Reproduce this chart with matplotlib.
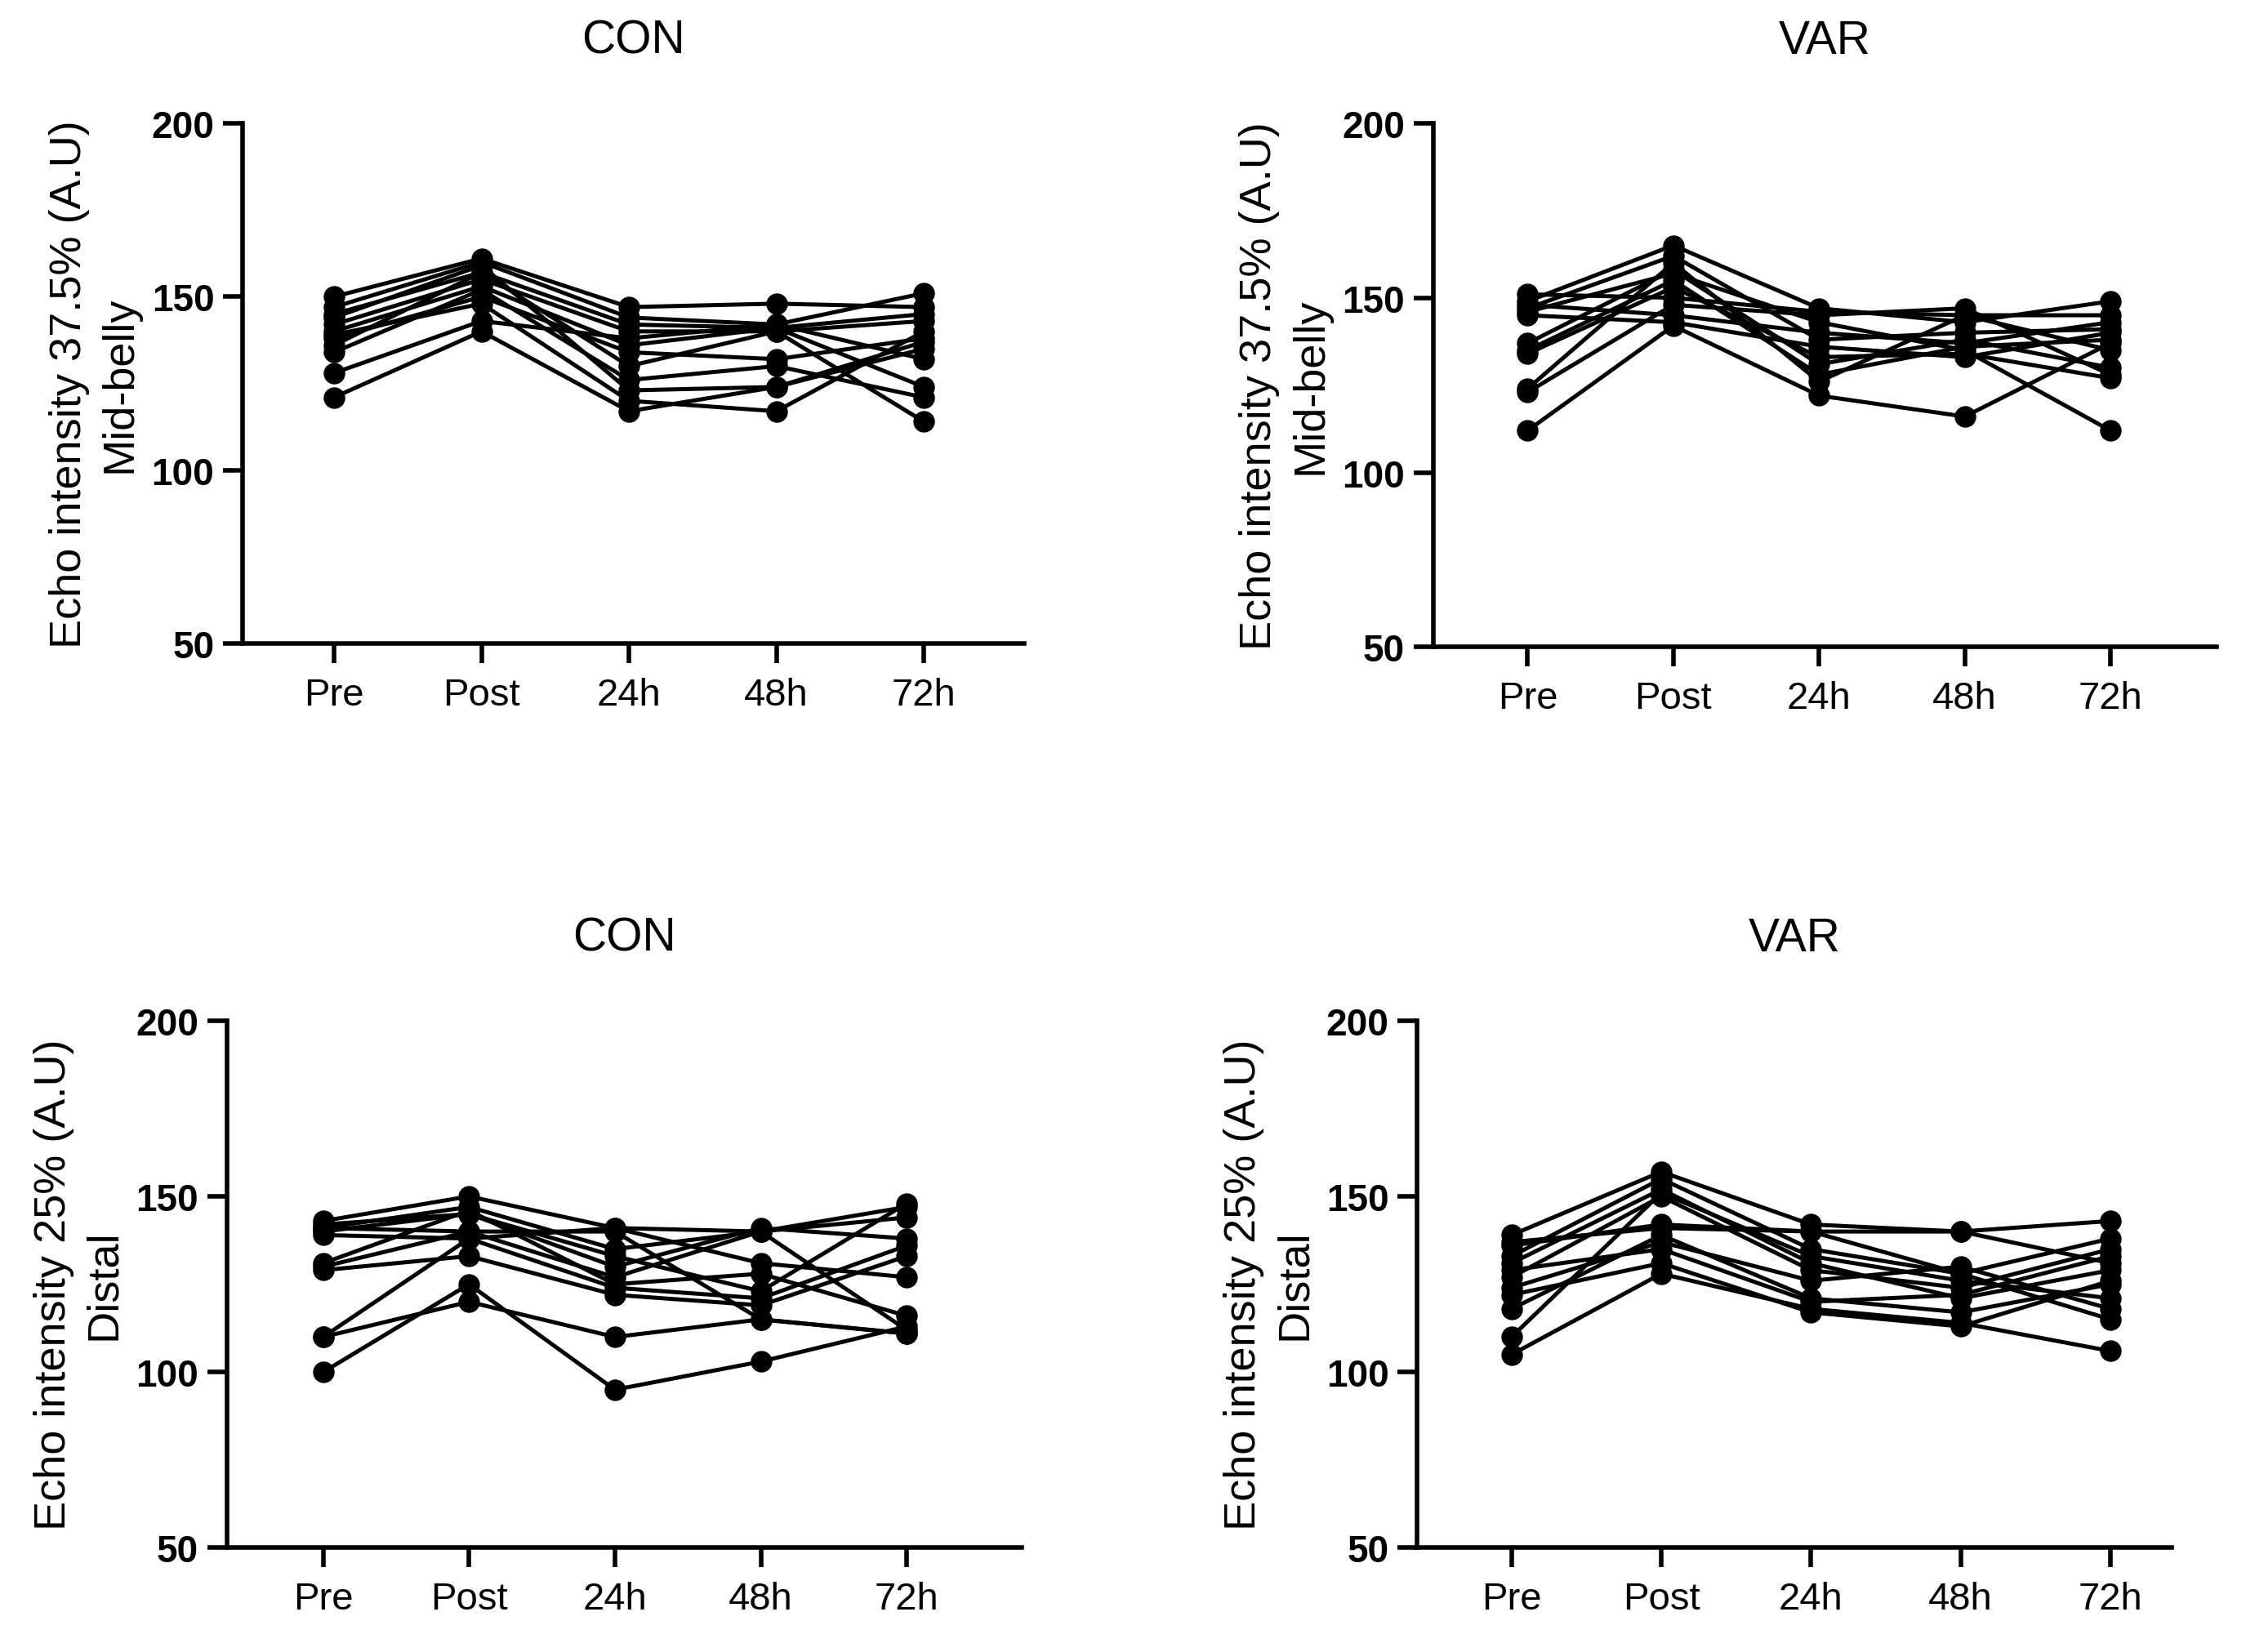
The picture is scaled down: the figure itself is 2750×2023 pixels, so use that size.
import matplotlib.pyplot as plt

plt.rcParams['font.family'] = ['Liberation Sans', 'DejaVu Sans']

timepoints = ["Pre", "Post", "24h", "48h", "72h"]
yticks = [50, 100, 150, 200]

# one row per participant: Pre, Post, 24h, 48h, 72h
con_mid = [
    [150, 161, 147, 148, 147],
    [147, 160, 144, 142, 151],
    [145, 157, 142, 141, 145],
    [142, 155, 140, 140, 143],
    [140, 153, 136, 141, 124],
    [138, 150, 134, 132, 138],
    [136, 157, 130, 140, 114],
    [134, 152, 126, 130, 121],
    [144, 159, 123, 124, 135],
    [139, 148, 120, 117, 140],
    [128, 143, 138, 142, 132],
    [121, 140, 117, 124, 137],
]
var_mid = [
    [151, 150, 146, 145, 145],
    [149, 165, 147, 143, 149],
    [148, 145, 140, 137, 143],
    [147, 162, 138, 140, 141],
    [145, 143, 136, 133, 140],
    [137, 158, 131, 138, 130],
    [135, 155, 128, 136, 138],
    [134, 153, 133, 134, 127],
    [124, 160, 126, 145, 135],
    [123, 148, 145, 147, 128],
    [112, 142, 122, 116, 137],
    [146, 157, 143, 135, 112],
]
con_distal = [
    [143, 150, 141, 140, 147],
    [141, 147, 135, 140, 144],
    [140, 145, 130, 141, 138],
    [139, 138, 141, 131, 127],
    [131, 146, 125, 128, 116],
    [129, 133, 122, 119, 133],
    [141, 140, 127, 140, 112],
    [130, 140, 140, 115, 111],
    [110, 138, 124, 121, 136],
    [110, 120, 110, 115, 111],
    [100, 125, 95, 103, 113],
    [142, 145, 133, 123, 148],
]
var_distal = [
    [139, 157, 142, 140, 143],
    [137, 141, 140, 140, 131],
    [133, 155, 135, 128, 138],
    [131, 152, 131, 121, 129],
    [127, 150, 129, 124, 135],
    [124, 137, 126, 130, 118],
    [118, 139, 121, 117, 125],
    [110, 151, 133, 126, 121],
    [105, 128, 118, 114, 106],
    [136, 142, 140, 128, 115],
    [129, 135, 120, 122, 133],
    [122, 131, 117, 113, 126],
]

panels = [
    (con_mid, "CON", "Echo intensity 37.5% (A.U)\nMid-belly", [0.108, 0.610, 0.348, 0.315], (-0.62, 4.68)),
    (var_mid, "VAR", "Echo intensity 37.5% (A.U)\nMid-belly", [0.638, 0.608, 0.349, 0.317], (-0.65, 4.73)),
    (con_distal, "CON", "Echo intensity 25% (A.U)\nDistal", [0.101, 0.063, 0.354, 0.319], (-0.66, 4.79)),
    (var_distal, "VAR", "Echo intensity 25% (A.U)\nDistal", [0.631, 0.063, 0.336, 0.319], (-0.63, 4.41)),
]

fig = plt.figure(figsize=(27.5, 20.24), dpi=100)

for data, title, ylab, pos, xlim in panels:
    ax = fig.add_axes(pos)
    for subj in data:
        ax.plot(range(len(timepoints)), subj, color="black", linewidth=3.6,
                marker="o", markersize=18)
    ax.set_xlim(*xlim)
    ax.set_ylim(50, 200)
    ax.set_xticks(range(len(timepoints)))
    ax.set_xticklabels(timepoints, fontsize=34)
    ax.set_yticks(yticks)
    ax.set_yticklabels([str(t) for t in yticks], fontsize=33, fontweight="bold")
    ax.spines["top"].set_visible(False)
    ax.spines["right"].set_visible(False)
    ax.spines["left"].set_linewidth(4)
    ax.spines["bottom"].set_linewidth(4)
    ax.tick_params(axis="both", width=4, length=17, color="black")
    ax.tick_params(axis="y", pad=8)
    ax.tick_params(axis="x", pad=12)
    ax.set_title(title, fontsize=41, pad=62)
    ax.set_ylabel(ylab, fontsize=39, labelpad=10, linespacing=1.3)

plt.savefig("out.png", dpi=100)
